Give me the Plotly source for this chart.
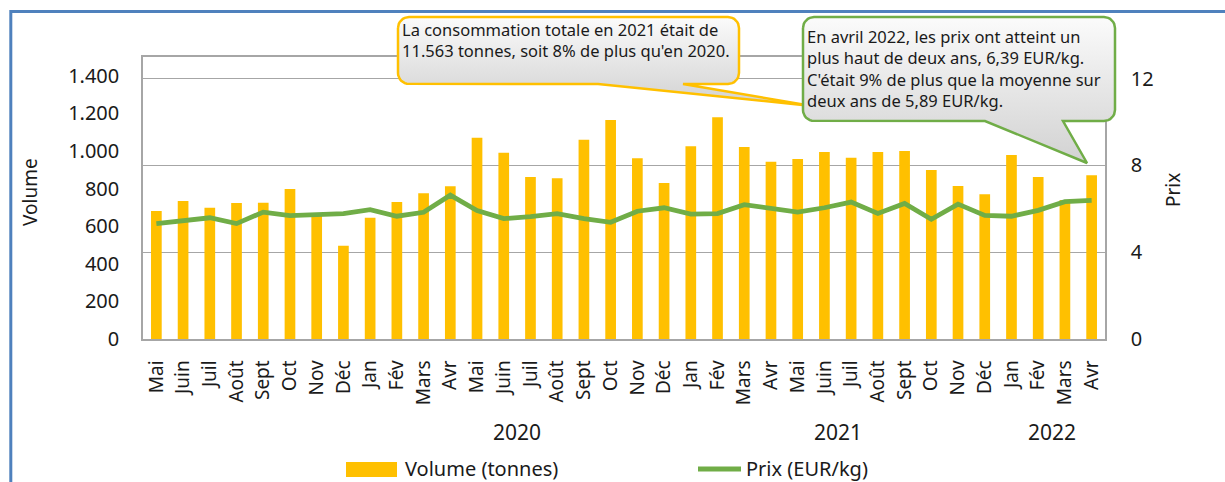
import math
import plotly.graph_objects as go

W, H = 1225, 482

# Monthly series, May 2019 to April 2022
months = ["Mai", "Juin", "Juil", "Août", "Sept", "Oct", "Nov", "Déc",
          "Jan", "Fév", "Mars", "Avr", "Mai", "Juin", "Juil", "Août", "Sept", "Oct", "Nov", "Déc",
          "Jan", "Fév", "Mars", "Avr", "Mai", "Juin", "Juil", "Août", "Sept", "Oct", "Nov", "Déc",
          "Jan", "Fév", "Mars", "Avr"]
volume_t = [681, 734, 698, 723, 725, 798, 660, 496,
            645, 729, 775, 812, 1071, 991, 862, 855, 1060, 1165, 961, 830,
            1025, 1180, 1021, 943, 957, 995, 964, 995, 1000, 899, 814, 770,
            979, 862, 739, 871]
prix_eur_kg = [5.32, 5.47, 5.59, 5.32, 5.85, 5.69, 5.72, 5.78,
               5.96, 5.66, 5.84, 6.63, 5.92, 5.55, 5.64, 5.78, 5.55, 5.38, 5.89, 6.05,
               5.76, 5.78, 6.19, 6.01, 5.85, 6.05, 6.31, 5.79, 6.25, 5.52, 6.22, 5.70,
               5.66, 5.93, 6.33, 6.39]
# year groups: label, first index, last index
years = [("2020", 8, 19), ("2021", 20, 31), ("2022", 32, 35)]
vol_ticks = [0, 200, 400, 600, 800, 1000, 1200, 1400]
prix_ticks = [0, 4, 8, 12]

FONT = "Noto Sans"
TXT = "#1a1a1a"
YELLOW = "#FFC000"
GREEN = "#70AD47"
GRID = "#A6A6A6"


def px(x):
    return x / W


def py(y):
    return 1 - y / H


# plot area in pixels
L, R, T, B = 143, 1105, 57, 339

fig = go.Figure()
xs = list(range(len(months)))
fig.add_trace(go.Bar(x=xs, y=volume_t, name="Volume (tonnes)", marker_color=YELLOW,
                     marker_line_width=0, width=0.4, xaxis="x", yaxis="y"))
fig.add_trace(go.Scatter(x=xs, y=prix_eur_kg, name="Prix (EUR/kg)", mode="lines",
                         line=dict(color=GREEN, width=4.8), xaxis="x", yaxis="y2"))


def callout(x0, y0, x1, y1, r, ta, tb, tip, n=8):
    pts = []

    def arc(cx, cy, a0, a1):
        for i in range(n + 1):
            a = math.radians(a0 + (a1 - a0) * i / n)
            pts.append((cx + r * math.cos(a), cy + r * math.sin(a)))
    arc(x0 + r, y0 + r, 180, 270)
    arc(x1 - r, y0 + r, 270, 360)
    arc(x1 - r, y1 - r, 0, 90)
    pts.append((tb, y1))
    pts.append(tip)
    pts.append((ta, y1))
    arc(x0 + r, y1 - r, 90, 180)
    pts.append(pts[0])
    return [p[0] for p in pts], [p[1] for p in pts]


def add_callout(box, tail, tip, color):
    x0, y0, x1, y1 = box
    cx, cy = callout(x0, y0, x1, y1, 11, tail[0], tail[1], tip)
    fig.add_trace(go.Scatter(
        x=cx, y=cy, mode="lines", fill="toself",
        line=dict(color=color, width=2.5),
        fillgradient=dict(type="vertical", start=y0, stop=max(y1, tip[1]),
                          colorscale=[[0, "#FBFBFB"], [0.6, "#E2E2E2"], [1, "#D2D2D2"]]),
        xaxis="x3", yaxis="y3", hoverinfo="skip", showlegend=False))


add_callout((398, 17, 739, 84), (598, 683), (812, 106), YELLOW)
add_callout((803, 17, 1115, 121), (985, 1063), (1087, 163), GREEN)

fig.update_layout(
    width=W, height=H,
    margin=dict(l=0, r=0, t=0, b=0, autoexpand=False),
    paper_bgcolor="white", plot_bgcolor="rgba(0,0,0,0)",
    showlegend=False,
    font=dict(family=FONT, color=TXT),
    xaxis=dict(domain=[px(L), px(R)], range=[-0.5, len(months) - 0.5], automargin=False,
               tickvals=xs, ticktext=months, tickangle=-90,
               tickfont=dict(size=19, color=TXT), ticks="outside", ticklen=12,
               tickcolor="rgba(0,0,0,0)",
               showline=True, linecolor=GRID, linewidth=1.5, mirror=True,
               showgrid=False, zeroline=False, fixedrange=True),
    yaxis=dict(domain=[py(B), py(T)], range=[0, 1500], tickvals=vol_ticks, automargin=False,
               ticktext=[f"{v:,}".replace(",", ".") for v in vol_ticks],
               tickfont=dict(size=20, color=TXT), ticks="outside", ticklen=18,
               tickcolor="rgba(0,0,0,0)",
               showline=True, linecolor=GRID, linewidth=1.5,
               showgrid=False, zeroline=False),
    yaxis2=dict(overlaying="y", side="right", anchor="x", range=[0, 13], automargin=False,
                tickvals=prix_ticks, tickfont=dict(size=20, color=TXT),
                ticks="outside", ticklen=20, tickcolor="rgba(0,0,0,0)",
                showline=True, linecolor=GRID, linewidth=1.5,
                showgrid=True, gridcolor=GRID, gridwidth=1, zeroline=False),
    xaxis3=dict(domain=[0, 1], range=[0, W], visible=False, anchor="y3", fixedrange=True,
                automargin=False),
    yaxis3=dict(domain=[0, 1], range=[H, 0], visible=False, anchor="x3", fixedrange=True,
                automargin=False),
)

ann = []
# callout texts
ann.append(dict(x=px(400), y=py(16), xref="paper", yref="paper", xanchor="left", yanchor="top",
                align="left", showarrow=False,
                text="La consommation totale en 2021 était de<br>11.563 tonnes, soit 8% de plus qu'en 2020.",
                font=dict(size=16.5, color=TXT)))
ann.append(dict(x=px(805), y=py(23), xref="paper", yref="paper", xanchor="left", yanchor="top",
                align="left", showarrow=False,
                text="En avril 2022, les prix ont atteint un<br>plus haut de deux ans, 6,39 EUR/kg.<br>"
                     "C'était 9% de plus que la moyenne sur<br>deux ans de 5,89 EUR/kg.",
                font=dict(size=16.5, color=TXT)))
# axis titles
ann.append(dict(x=px(30), y=py(192), xref="paper", yref="paper", textangle=-90, showarrow=False,
                xanchor="center", yanchor="middle",
                text="Volume", font=dict(size=19, color=TXT)))
ann.append(dict(x=px(1173), y=py(190), xref="paper", yref="paper", textangle=-90, showarrow=False,
                xanchor="center", yanchor="middle",
                text="Prix", font=dict(size=19, color=TXT)))
# year group labels
for label, i0, i1 in years:
    ann.append(dict(x=(i0 + i1) / 2, y=py(432), xref="x", yref="paper", showarrow=False,
                    xanchor="center", yanchor="middle",
                    text=label, font=dict(size=21, color=TXT)))
# legend
LEG_Y = 468
ann.append(dict(x=px(403), y=py(LEG_Y), xref="paper", yref="paper", xanchor="left", yanchor="middle",
                showarrow=False, text="Volume (tonnes)", font=dict(size=20, color=TXT)))
ann.append(dict(x=px(744), y=py(LEG_Y), xref="paper", yref="paper", xanchor="left", yanchor="middle",
                showarrow=False, text="Prix (EUR/kg)", font=dict(size=20, color=TXT)))
# heading, mostly above the visible page
ann.append(dict(x=px(122), y=py(4), xref="paper", yref="paper", xanchor="left", yanchor="bottom",
                showarrow=False, text="<b>2019 – AVRIL 2022.</b>",
                font=dict(size=19, color="#4F8A2B")))
fig.update_layout(annotations=ann)

shapes = [
    dict(type="rect", xref="paper", yref="paper", x0=px(10.8), y0=py(11.5), x1=px(1260), y1=py(520),
         line=dict(color="#4F81BD", width=3), fillcolor="rgba(0,0,0,0)", layer="above"),
    dict(type="rect", xref="paper", yref="paper", x0=px(346), y0=py(LEG_Y - 6), x1=px(397),
         y1=py(LEG_Y + 9), line=dict(width=0), fillcolor=YELLOW),
    dict(type="line", xref="paper", yref="paper", x0=px(698), y0=py(LEG_Y + 1), x1=px(741),
         y1=py(LEG_Y + 1), line=dict(color=GREEN, width=4.8)),
]
fig.update_layout(shapes=shapes)

fig.write_html("out.html")
